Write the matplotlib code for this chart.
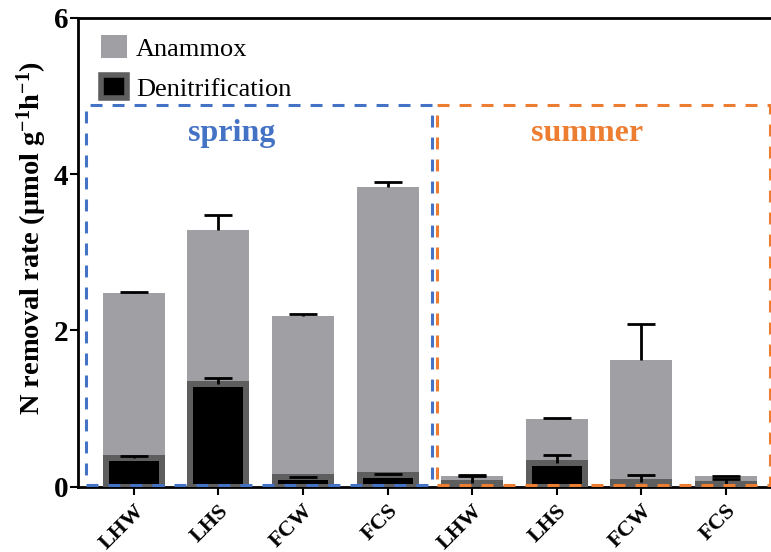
import numpy as np
import matplotlib
matplotlib.use("Agg")
import matplotlib.pyplot as plt
from matplotlib.patches import Rectangle, Patch

plt.rcParams['font.family'] = ['Liberation Serif', 'DejaVu Serif']
plt.rcParams['mathtext.fontset'] = 'custom'
plt.rcParams['mathtext.bf'] = 'Liberation Serif:bold'
plt.rcParams['mathtext.rm'] = 'Liberation Serif:bold'
plt.rcParams['mathtext.default'] = 'bf'

# data
sites = ["LHW", "LHS", "FCW", "FCS", "LHW", "LHS", "FCW", "FCS"]
denit = [0.37, 1.32, 0.12, 0.15, 0.05, 0.30, 0.06, 0.04]
denit_err = [0.02, 0.07, 0.01, 0.015, 0.10, 0.10, 0.085, 0.06]
anammox = [2.11, 1.96, 2.07, 3.68, 0.09, 0.57, 1.56, 0.10]
anammox_err = [0.01, 0.19, 0.02, 0.07, 0.0, 0.01, 0.46, 0.0]
seasons = ["spring", "summer"]

GRAY = "#a0a0a4"
DARK = "#5e5e5e"
BLUE = "#4472c4"
ORANGE = "#ed7d31"

fig = plt.figure(figsize=(7.71, 5.52), dpi=100)
ax = fig.add_axes([0.101, 0.1183, 0.899, 0.8497])

x = np.arange(len(sites))
w = 0.733
edge_px = 6
edge_data = edge_px / 84.57


def upper_errorbar(y, err, z):
    # one-sided error bars (upper cap only)
    eb = ax.errorbar(x, y, yerr=[np.zeros(len(x)), err], fmt='none',
                     ecolor='black', elinewidth=2, capsize=10, capthick=2,
                     zorder=z)
    eb[1][0].set_visible(False)


# anammox stacked on denitrification
tops = np.array(denit) + np.array(anammox)
ax.bar(x, anammox, w, bottom=denit, color=GRAY, zorder=2)
upper_errorbar(tops, anammox_err, 3)

ax.bar(x, denit, w - edge_data, color='black', edgecolor=DARK,
       linewidth=edge_px * 0.72, zorder=4)
upper_errorbar(denit, denit_err, 5)

# season boxes
dash = (0, (3.9, 3.3))
ax.add_patch(Rectangle((-0.57, 0.02), 4.09, 4.86, fill=False, edgecolor=BLUE,
                       linewidth=2.2, linestyle=dash, zorder=6, clip_on=False))
ax.add_patch(Rectangle((3.58, 0.02), 3.94, 4.86, fill=False, edgecolor=ORANGE,
                       linewidth=2.2, linestyle=dash, zorder=6, clip_on=False))
ax.text(1.16, 4.52, seasons[0], color=BLUE, fontsize=23, fontweight='bold',
        ha='center', va='center')
ax.text(5.36, 4.52, seasons[1], color=ORANGE, fontsize=23, fontweight='bold',
        ha='center', va='center')

ax.set_xlim(-0.662, 7.532)
ax.set_ylim(0, 6)
ax.set_yticks([0, 2, 4, 6])
ax.set_xticks(x)
ax.set_xticklabels(sites, rotation=45, ha='right', rotation_mode='anchor',
                   fontsize=16, fontweight='bold')
for lab in ax.get_yticklabels():
    lab.set_fontweight('bold')
ax.tick_params(axis='y', labelsize=21, width=1.5, length=6, pad=1)
ax.tick_params(axis='x', width=1.5, length=6, pad=4)
ax.spines['right'].set_visible(False)
for s in ['left', 'top', 'bottom']:
    ax.spines[s].set_linewidth(2)

ax.set_ylabel(r'N removal rate (μmol g$^{-1}$h$^{-1}$)', fontsize=20.5,
              fontweight='bold')
ax.yaxis.set_label_coords(-0.042, 0.53)

handles = [Patch(facecolor=GRAY, label='Anammox'),
           Patch(facecolor='black', edgecolor=DARK, linewidth=4, label='Denitrification')]
ax.legend(handles=handles, loc='upper left', bbox_to_anchor=(0.033, 0.963),
          frameon=False, fontsize=19, handlelength=0.98, handleheight=0.98,
          handletextpad=0.35, labelspacing=0.55, borderpad=0, borderaxespad=0)

fig.savefig("out.png", dpi=100)
